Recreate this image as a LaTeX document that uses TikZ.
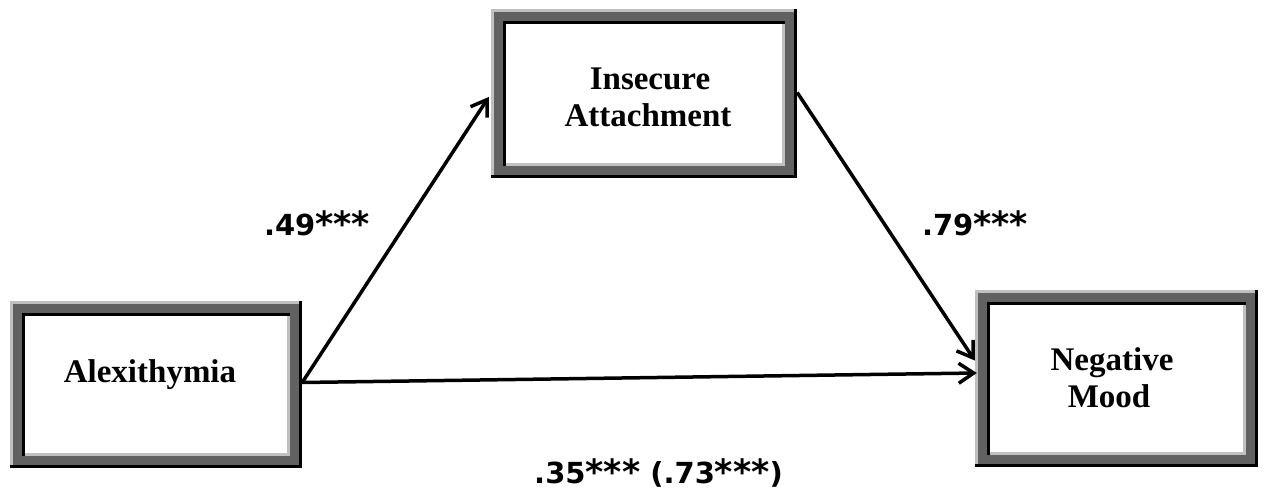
\documentclass[tikz,border=0pt]{standalone}
\usepackage{fontspec}
\setmainfont{Liberation Serif}
\newfontfamily\numfont{DejaVu Sans}
\usetikzlibrary{arrows.meta,calc}
\definecolor{dgray}{HTML}{616161}
\definecolor{lgray}{HTML}{C0C0C0}
\newcommand\bigast{\raisebox{-1.5pt}{\scalebox{1.2}{*}}}
\tikzset{
  framebx/.style={rectangle, inner sep=0pt, fill=white, draw=none,
    path picture={
      \fill[black] (path picture bounding box.south west) rectangle (path picture bounding box.north east);
      \fill[lgray] ($(path picture bounding box.south west)+(0pt,3pt)$) rectangle ($(path picture bounding box.north east)+(-3pt,0pt)$);
      \fill[dgray] ($(path picture bounding box.south west)+(3pt,3pt)$) rectangle ($(path picture bounding box.north east)+(-3pt,-3pt)$);
      \fill[black] ($(path picture bounding box.south west)+(12pt,12pt)$) rectangle ($(path picture bounding box.north east)+(-12pt,-12pt)$);
      \fill[lgray] ($(path picture bounding box.south west)+(15pt,12pt)$) rectangle ($(path picture bounding box.north east)+(-12pt,-15pt)$);
      \fill[white] ($(path picture bounding box.south west)+(15pt,15pt)$) rectangle ($(path picture bounding box.north east)+(-15pt,-15pt)$);
    }},
  boxtxt/.style={font=\bfseries\fontsize{33}{38}\selectfont, anchor=base, inner sep=0pt},
  coef/.style={font=\numfont\bfseries\fontsize{29}{35}\selectfont, anchor=base, inner sep=0pt},
  arr/.style={line width=3.5pt, -{Straight Barb[length=15pt,width=20pt]}},
}
\begin{document}
\begin{tikzpicture}[x=1pt,y=-1pt]
\useasboundingbox[fill=white] (0,0) rectangle (1264,492);
% boxes
\node[framebx, minimum width=292pt, minimum height=167pt] (alex) at (156,384.5) {};
\node[framebx, minimum width=306pt, minimum height=169pt] (ins) at (644,93.5) {};
\node[framebx, minimum width=283pt, minimum height=177pt] (neg) at (1116.5,378.5) {};
% box texts
\node[boxtxt] (alexT) at (150,382) {Alexithymia};
\node[boxtxt] (insT1) at (650,90) {Insecure};
\node[boxtxt] (insT2) at (648,127) {Attachment};
\node[boxtxt] (negT1) at (1112,370) {Negative};
\node[boxtxt] (negT2) at (1109,407) {Mood};
% arrows
\draw[arr] ([yshift=2pt]alex.east) -- ([xshift=-2pt,yshift=-3.5pt]ins.west);
\draw[arr] ([yshift=1pt]ins.east) -- ([yshift=18pt]neg.west);
\draw[arr] ([yshift=2pt]alex.east) -- ([xshift=2pt,yshift=5.5pt]neg.west);
% coefficients
\node[coef] (c1) at (317,235) {.49\bigast\bigast\bigast};
\node[coef] (c2) at (975,235) {.79\bigast\bigast\bigast};
\node[coef] (c3) at (658.5,483) {.35\bigast\bigast\bigast{} (.73\bigast\bigast\bigast)};
\end{tikzpicture}
\end{document}
